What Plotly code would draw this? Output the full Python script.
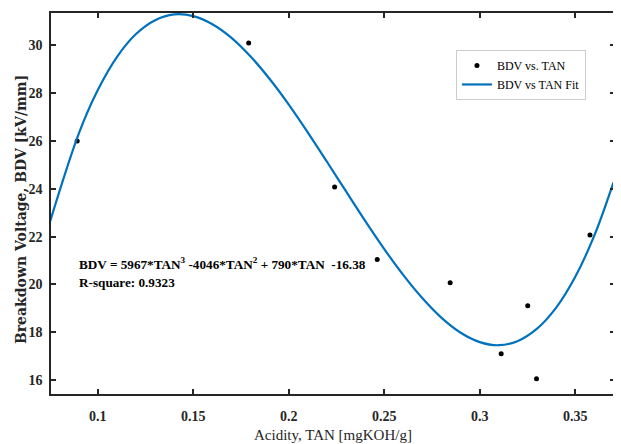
import plotly.graph_objects as go

# Measured data points (TAN vs BDV)
tan_data = [0.0892, 0.179, 0.224, 0.2463, 0.2845, 0.3112, 0.3251, 0.3297, 0.3577]
bdv_data = [26.0, 30.1, 24.08, 21.04, 20.07, 17.10, 19.11, 16.06, 22.07]

# Fit curve values
fit_x = [0.075, 0.09, 0.10, 0.11, 0.12, 0.13, 0.14, 0.15, 0.16, 0.17, 0.18, 0.19,
         0.20, 0.21, 0.22, 0.23, 0.24, 0.25, 0.26, 0.27, 0.28, 0.29, 0.30, 0.31,
         0.32, 0.33, 0.34, 0.35, 0.36, 0.37]
fit_y = [22.63, 26.30, 28.13, 29.51, 30.47, 31.05, 31.29, 31.22, 30.88, 30.31, 29.53, 28.59,
         27.52, 26.35, 25.13, 23.89, 22.66, 21.48, 20.39, 19.42, 18.60, 17.98, 17.59, 17.46,
         17.64, 18.15, 19.03, 20.32, 22.05, 24.27]

x_ticks = [0.1, 0.15, 0.2, 0.25, 0.3, 0.35]
x_tick_labels = ["0.1", "0.15", "0.2", "0.25", "0.3", "0.35"]
y_ticks = [16, 18, 20, 22, 24, 26, 28, 30]

FONT = "Liberation Serif"
AX = "#262626"

fig = go.Figure()
fig.add_trace(go.Scatter(
    x=tan_data, y=bdv_data, mode="markers", name="BDV vs. TAN",
    marker=dict(color="black", size=5),
))
fig.add_trace(go.Scatter(
    x=fit_x, y=fit_y, mode="lines", name="BDV vs TAN Fit",
    line=dict(color="#0072BD", width=2.2, shape="spline"),
))

fig.add_annotation(
    x=0.0892, y=20.88, xref="x", yref="y", xanchor="left", yanchor="middle",
    text="BDV = 5967*TAN<sup>3</sup> -4046*TAN<sup>2</sup> + 790*TAN  -16.38",
    showarrow=False, font=dict(family=FONT, size=13.2, color="black", weight="bold"),
)
fig.add_annotation(
    x=0.0892, y=20.07, xref="x", yref="y", xanchor="left", yanchor="middle",
    text="R-square: 0.9323",
    showarrow=False, font=dict(family=FONT, size=13.2, color="black", weight="bold"),
)
# axis titles
fig.add_annotation(
    x=-0.053, y=0.483, xref="paper", yref="paper", xanchor="center", yanchor="middle",
    text="Breakdown Voltage, BDV [kV/mm]", textangle=-90, showarrow=False,
    font=dict(family="DejaVu Serif", size=14, color="#262626", weight="bold"),
)
fig.add_annotation(
    x=0.5, y=-0.1076, xref="paper", yref="paper", xanchor="center", yanchor="middle",
    text="Acidity, TAN [mgKOH/g]", showarrow=False,
    font=dict(family=FONT, size=15, color="#262626"),
)

# page body has an 8px margin: shrink the figure so it fills the 621x444 window
fig.update_layout(
    width=613, height=436,
    margin=dict(l=43, r=6, t=5, b=50, autoexpand=False),
    paper_bgcolor="white", plot_bgcolor="white",
    font=dict(family=FONT, color="black"),
    showlegend=True,
    legend=dict(
        x=0.718, y=0.903, xanchor="left", yanchor="top",
        bgcolor="white", bordercolor="#cccccc", borderwidth=1,
        font=dict(family=FONT, size=12, color="black"),
        tracegroupgap=0, itemwidth=30,
    ),
)
fig.update_xaxes(
    range=[0.0755, 0.3708], automargin=False,
    tickvals=x_ticks, ticktext=x_tick_labels,
    ticks="inside", ticklen=5, tickwidth=1.5, tickcolor=AX,
    showline=True, linecolor=AX, linewidth=1.5, mirror="ticks",
    showgrid=False, zeroline=False,
    tickfont=dict(family=FONT, size=14, color="#262626", weight="bold"),
    ticklabelstandoff=8,
)
fig.update_yaxes(
    range=[15.42, 31.35], automargin=False,
    tickvals=y_ticks,
    ticks="inside", ticklen=5, tickwidth=1.5, tickcolor=AX,
    showline=True, linecolor=AX, linewidth=1.5, mirror="ticks",
    showgrid=False, zeroline=False,
    tickfont=dict(family=FONT, size=14, color="#262626", weight="bold"),
    ticklabelstandoff=4,
)

fig.write_html("out.html")
